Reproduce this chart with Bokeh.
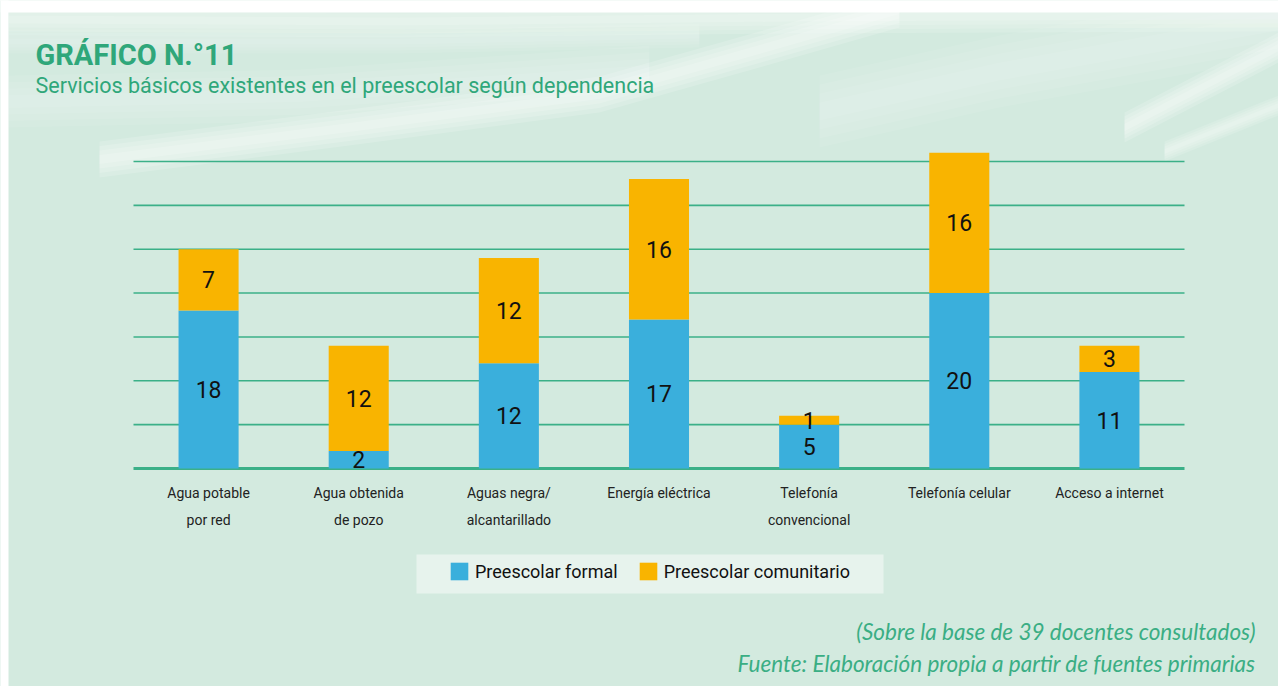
from bokeh.plotting import figure
from bokeh.models import (ColumnDataSource, Range1d, Label, BoxAnnotation, PolyAnnotation,
                          Legend, LegendItem)
from bokeh.core.properties import value
from bokeh.embed import file_html
from bokeh.resources import INLINE

# ---------------- data ----------------
categories = ["Agua potable\npor red", "Agua obtenida\nde pozo", "Aguas negra/\nalcantarillado",
              "Energía eléctrica", "Telefonía\nconvencional", "Telefonía celular",
              "Acceso a internet"]
formal = [18, 2, 12, 17, 5, 20, 11]
comunitario = [7, 12, 12, 16, 1, 16, 3]
series = ["Preescolar formal", "Preescolar comunitario"]
grid_ticks = [0, 5, 10, 15, 20, 25, 30, 35]

title = "GRÁFICO N.°11"
subtitle = "Servicios básicos existentes en el preescolar según dependencia"
note1 = "(Sobre la base de 39 docentes consultados)"
note2 = "Fuente: Elaboración propia a partir de fuentes primarias"

# ---------------- style / layout ----------------
BG = "#d3eadf"
GREEN = "#3bb088"
TITLE_GREEN = "#2fa77a"
NOTE_GREEN = "#3aae84"
BLUE = "#3aafdc"
ORANGE = "#f9b400"
COND = "Roboto"

W, H = 1278, 686
OFF = 1                      # page offset of the canvas
PLOT_L, PLOT_R = 134, 1185   # page x of the plotting area
BASE_Y, TOP_Y = 469, 162     # page y of value 0 and of the top grid value
n = len(categories)
ppu_x = (PLOT_R - PLOT_L) / n
ppu_y = (BASE_Y - TOP_Y) / grid_ticks[-1]

x_start = (OFF - PLOT_L) / ppu_x
x_end = (OFF + W - PLOT_L) / ppu_x
y_start = (BASE_Y - (OFF + H)) / ppu_y
y_end = (BASE_Y - OFF) / ppu_y


def sx(px):
    return px - OFF


def sy(py):
    return (OFF + H) - py


xpos = [i + 0.5 for i in range(n)]
src = ColumnDataSource(dict(x=xpos, cat=categories,
                            **{series[0]: formal, series[1]: comunitario}))

p = figure(x_range=Range1d(x_start, x_end), y_range=Range1d(y_start, y_end),
           width=W, height=H, output_backend="svg", toolbar_location=None,
           x_axis_location=None, y_axis_location=None,
           min_border=0, min_border_left=0, min_border_right=0,
           min_border_top=0, min_border_bottom=0)
p.background_fill_color = BG
p.border_fill_color = BG
p.outline_line_color = None
p.grid.visible = False


# ---- soft brush-stroke texture (decoration only) ----
def soft_band(center, hw, alpha, layers=4):
    for k in range(layers):
        w = hw * (1 - k / layers)
        xs = [c[0] for c in center] + [c[0] for c in reversed(center)]
        ys = [c[1] - w for c in center] + [c[1] + w for c in reversed(center)]
        p.add_layout(PolyAnnotation(xs=[sx(x) for x in xs], ys=[sy(y) for y in ys],
                                    xs_units="screen", ys_units="screen",
                                    fill_color="white", fill_alpha=alpha / layers,
                                    line_color=None, level="underlay"))


soft_band([(9, 20), (400, 22), (800, 18), (1279, 16)], 16, 0.55)
soft_band([(9, 42), (400, 42), (700, 36)], 12, 0.3)
soft_band([(9, 102), (300, 96), (650, 72)], 26, 0.3)
soft_band([(100, 160), (350, 128), (600, 95), (760, 50), (900, 10)], 18, 0.65)
soft_band([(820, 112), (1000, 72), (1279, 22)], 36, 0.3)
soft_band([(1125, 128), (1279, 48)], 15, 0.65)
soft_band([(1165, 152), (1279, 106)], 10, 0.55)

# white page margin at top and left of the panel
for l, r, t, b in [(0, 1279, 0, 13), (0, 9, 0, 687)]:
    p.add_layout(BoxAnnotation(left=max(sx(l), 0), right=sx(r), top=sy(t), bottom=max(sy(b), 0),
                               left_units="screen", right_units="screen",
                               top_units="screen", bottom_units="screen",
                               fill_color="white", fill_alpha=1, line_color=None,
                               level="underlay"))

# ---- grid lines and base line (from grid tick values) ----
p.segment(x0=0, x1=n, y0=grid_ticks[1:], y1=grid_ticks[1:], line_color=GREEN, line_width=1.6)
p.segment(x0=0, x1=n, y0=grid_ticks[0], y1=grid_ticks[0], line_color=GREEN, line_width=3)

# ---- stacked bars ----
rs = p.vbar_stack(series, x="x", width=0.4, color=[BLUE, ORANGE], line_color=None,
                  source=src)

# value labels at the middle of each segment
lx, ly, lt = [], [], []
for xc, f, m in zip(xpos, formal, comunitario):
    lx += [xc, xc]
    ly += [f / 2, f + m / 2]
    lt += [str(f), str(m)]
p.text(x=lx, y=ly, text=lt, text_align="center", text_baseline="middle",
       text_font=value(COND), text_font_size="23px", text_color="#111111")

# category labels under the base line
p.text(x="x", y=0, text="cat", source=src, y_offset=16, text_align="center",
       text_baseline="top", text_font=value(COND), text_font_size="14px",
       text_color="#222222", text_line_height=1.7)

# ---- legend ----
p.add_layout(BoxAnnotation(left=sx(417), right=sx(884), top=sy(555), bottom=sy(594),
                           left_units="screen", right_units="screen",
                           top_units="screen", bottom_units="screen",
                           fill_color="#e7f3ed", fill_alpha=1, line_color=None))
legend = Legend(items=[LegendItem(label=series[0], renderers=[rs[0]]),
                       LegendItem(label=series[1], renderers=[rs[1]])],
                location=(sx(449), sy(583)), orientation="horizontal",
                background_fill_alpha=0, border_line_color=None, padding=0, margin=0,
                glyph_width=22, glyph_height=22, label_standoff=5, spacing=19,
                label_text_font=COND, label_text_font_size="18px",
                label_text_color="#111111", label_height=22)
p.add_layout(legend)

# ---- titles and notes ----
p.add_layout(Label(x=sx(36), y=sy(55), x_units="screen", y_units="screen", text=title,
                   text_font="Roboto", text_font_style="bold", text_font_size="29px",
                   text_color=TITLE_GREEN, text_baseline="alphabetic"))
p.add_layout(Label(x=sx(36), y=sy(86), x_units="screen", y_units="screen", text=subtitle,
                   text_font=COND, text_font_size="21.5px", text_color=TITLE_GREEN,
                   text_baseline="alphabetic"))
p.add_layout(Label(x=sx(1256), y=sy(632), x_units="screen", y_units="screen", text=note1,
                   text_font="Lato", text_font_style="italic", text_font_size="22.5px",
                   text_color=NOTE_GREEN, text_align="right", text_baseline="alphabetic"))
p.add_layout(Label(x=sx(1256), y=sy(664), x_units="screen", y_units="screen", text=note2,
                   text_font="Lato", text_font_style="italic", text_font_size="22.5px",
                   text_color=NOTE_GREEN, text_align="right", text_baseline="alphabetic"))

open("out.html", "w").write(file_html(p, INLINE))
